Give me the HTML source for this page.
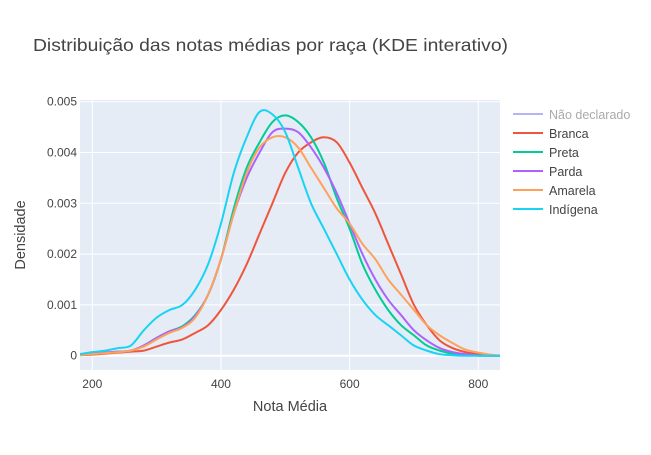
<!DOCTYPE html>
<html><head><meta charset="utf-8"><style>
body{margin:0;background:#fff;font-family:"Liberation Sans",Arial,sans-serif}
svg text{font-family:"Liberation Sans",Arial,sans-serif}
</style></head><body>
<svg id="c" width="651" height="450" xmlns="http://www.w3.org/2000/svg">
<rect width="651" height="450" fill="#fff"/>
<text x="33" y="51" font-size="17.5" fill="#444" textLength="475" lengthAdjust="spacingAndGlyphs">Distribuição das notas médias por raça (KDE interativo)</text>
<rect x="80" y="100" width="420" height="270" fill="#e5ecf6"/>
<g id="grid"></g><g id="series"></g><g id="axes"></g><g id="legend"></g>
<text x="290" y="411" font-size="14.5" fill="#444" text-anchor="middle">Nota Média</text>
<text transform="translate(25,235) rotate(-90)" font-size="14.5" fill="#444" text-anchor="middle">Densidade</text>
</svg>
<script>
const xs=[180,200,220,240,260,280,300,320,340,360,380,400,420,440,460,480,500,520,540,560,580,600,620,640,660,680,700,720,740,760,780,800,820,840];
const seriesNames=["Não declarado","Branca","Preta","Parda","Amarela","Indígena"];
const colors=["#b6b3f8","#ef553b","#00cc96","#ab63fa","#ffa15a","#19d3f3"];
const branca=[0.00001,0.00002,0.00004,0.00006,0.00008,0.0001,0.00018,0.00026,0.00032,0.00045,0.0006,0.0009,0.0013,0.0018,0.0024,0.003,0.0036,0.004,0.0042,0.0043,0.0042,0.0038,0.0033,0.0028,0.0022,0.0016,0.001,0.0006,0.0003,0.00015,0.00007,0.00003,0.00001,0];
const preta=[0.00002,0.00004,0.00006,0.00008,0.0001,0.0002,0.00035,0.00048,0.00058,0.0008,0.0012,0.0019,0.0029,0.0037,0.0042,0.0046,0.00473,0.0046,0.0043,0.0038,0.0031,0.0025,0.0018,0.0013,0.0009,0.0006,0.0004,0.0002,0.0001,0.00004,0.00002,0,0,0];
const parda=[0.00002,0.00004,0.00006,0.00008,0.0001,0.0002,0.00035,0.00048,0.00056,0.00078,0.0012,0.0019,0.0028,0.0035,0.004,0.0044,0.00447,0.0044,0.0041,0.0037,0.0032,0.0026,0.002,0.0015,0.0011,0.0008,0.0005,0.0003,0.00015,0.00007,0.00003,0.00001,0,0];
const amarela=[0.00001,0.00003,0.00005,0.00007,0.0001,0.00018,0.00032,0.00045,0.00055,0.00075,0.0012,0.0019,0.0028,0.0036,0.0041,0.0043,0.0043,0.0041,0.0037,0.0033,0.0029,0.0026,0.0022,0.0019,0.0015,0.0012,0.0009,0.0006,0.0004,0.00025,0.00012,0.00006,0.00002,0];
const indigena=[0.00003,0.00007,0.0001,0.00015,0.0002,0.0005,0.00075,0.0009,0.001,0.0013,0.0018,0.0026,0.0036,0.0043,0.0048,0.00475,0.0044,0.0037,0.003,0.0025,0.002,0.0015,0.0011,0.0008,0.0006,0.0004,0.0002,0.0001,0.00003,0.00001,0,0,0,0];
const xTicks=[200,400,600,800];
const yTicks=[0,0.001,0.002,0.003,0.004,0.005];
const yTickLabels=["0","0.001","0.002","0.003","0.004","0.005"];
const NS="http://www.w3.org/2000/svg";
const X=v=>92.3+(v-200)*0.6433;
const Y=v=>355.7-v*50800;
function mk(t,a,p){const e=document.createElementNS(NS,t);for(const k in a)e.setAttribute(k,a[k]);p.appendChild(e);return e;}
function smooth(pts){let d='M'+pts[0][0]+','+pts[0][1];
for(let i=0;i<pts.length-1;i++){const p0=pts[i-1]||pts[i],p1=pts[i],p2=pts[i+1],p3=pts[i+2]||p2;
const c1=[p1[0]+(p2[0]-p0[0])/6,p1[1]+(p2[1]-p0[1])/6],c2=[p2[0]-(p3[0]-p1[0])/6,p2[1]-(p3[1]-p1[1])/6];
d+=' C'+c1[0]+','+c1[1]+' '+c2[0]+','+c2[1]+' '+p2[0]+','+p2[1];}return d;}
const grid=document.getElementById('grid'),axes=document.getElementById('axes');
xTicks.forEach(t=>{const l=mk('line',{x1:X(t),x2:X(t),y1:100,y2:370,stroke:'#fff','stroke-width':1},grid);


const tx=mk('text',{x:X(t),y:388,'font-size':12,fill:'#444','text-anchor':'middle'},axes);tx.textContent=t;

});
yTicks.forEach((t,i)=>{const l=mk('line',{x1:80,x2:500,y1:Y(t),y2:Y(t),stroke:'#fff','stroke-width':i==0?2:1},grid);


const tx=mk('text',{x:77,y:Y(t)+4,'font-size':12,fill:'#444','text-anchor':'end'},axes);tx.textContent=yTickLabels[i];

});
const data=[null,branca,preta,parda,amarela,indigena];
const sg=document.getElementById('series');
const cp=mk('clipPath',{id:'clip'},sg);mk('rect',{x:80,y:100,width:420,height:270},cp);
data.forEach((d,i)=>{if(!d)return;
const p=mk('path',{d:smooth(xs.map((x,j)=>[X(x),Y(d[j])])),fill:'none',stroke:colors[i],'stroke-width':2,'stroke-linejoin':'round','clip-path':'url(#clip)'},sg);

});
const lg=document.getElementById('legend');
seriesNames.forEach((n,i)=>{const y=114+i*19;
const g=mk('g',{},lg);


mk('line',{x1:513,x2:543,y1:y,y2:y,stroke:colors[i],'stroke-width':2},g);
const t=mk('text',{x:549,y:y+5,'font-size':12.5,fill:i==0?'#aaa':'#444'},g);t.textContent=n;});
</script>
</body></html>
